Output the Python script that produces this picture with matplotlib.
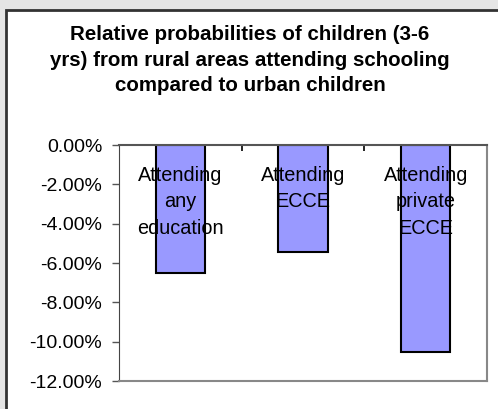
import matplotlib
matplotlib.use("Agg")
import matplotlib.pyplot as plt
from matplotlib.patches import Rectangle
from matplotlib.ticker import FuncFormatter

plt.rcParams['font.family'] = ['Liberation Sans', 'DejaVu Sans']

categories = ['Attending\nany\neducation', 'Attending\nECCE', 'Attending\nprivate\nECCE']
values = [-6.5, -5.45, -10.5]  # percent
y_ticks = [0, -2, -4, -6, -8, -10, -12]
title = ('Relative probabilities of children (3-6\n'
         'yrs) from rural areas attending schooling\n'
         'compared to urban children')

W, H = 498, 409
fig = plt.figure(figsize=(W / 100, H / 100), dpi=100)
fig.patch.set_facecolor('#e5e5e5')

# white chart panel with a dark frame on the top and left
panel = Rectangle((6 / W, -0.1), 1, 1.1 - 10 / H, transform=fig.transFigure,
                  facecolor='white', edgecolor='#333333', linewidth=2, zorder=-10)
fig.patches.append(panel)

fig.text(250 / W, 1 - 60 / H, title, ha='center', va='center',
         fontsize=14.8, fontweight='bold', linespacing=1.42)

left, right, top, bottom = 119, 487, 145, 381
ax = fig.add_axes([left / W, 1 - bottom / H, (right - left) / W, (bottom - top) / H])
ax.set_facecolor('white')

x = range(len(values))
ax.bar(x, values, width=0.4, color='#9999ff', edgecolor='black', linewidth=1.5, zorder=2)
ax.set_xlim(-0.5, len(values) - 0.5)
ax.set_ylim(-12, 0)

for i, label in enumerate(categories):
    ax.text(i, -1.05, label, ha='center', va='top', fontsize=14.3,
            linespacing=1.5, zorder=3)

ax.set_yticks(y_ticks)
ax.yaxis.set_major_formatter(FuncFormatter(lambda v, p: f'{v:.2f}%'))
ax.tick_params(axis='y', direction='out', length=5, width=1, labelsize=14,
               color='#555555', pad=7)
# category boundary ticks hang down from the zero line
ax.set_xticks([0.5, 1.5])
ax.set_xticklabels([])
ax.tick_params(axis='x', direction='in', length=4, width=1.2, color='black',
               top=True, bottom=False, labeltop=False)

for side in ['top', 'right', 'bottom']:
    ax.spines[side].set_color('#888888')
    ax.spines[side].set_linewidth(1.5)
ax.spines['left'].set_color('#444444')
ax.spines['top'].set_color('#555555')

fig.savefig('out.png', dpi=100, facecolor=fig.get_facecolor())
